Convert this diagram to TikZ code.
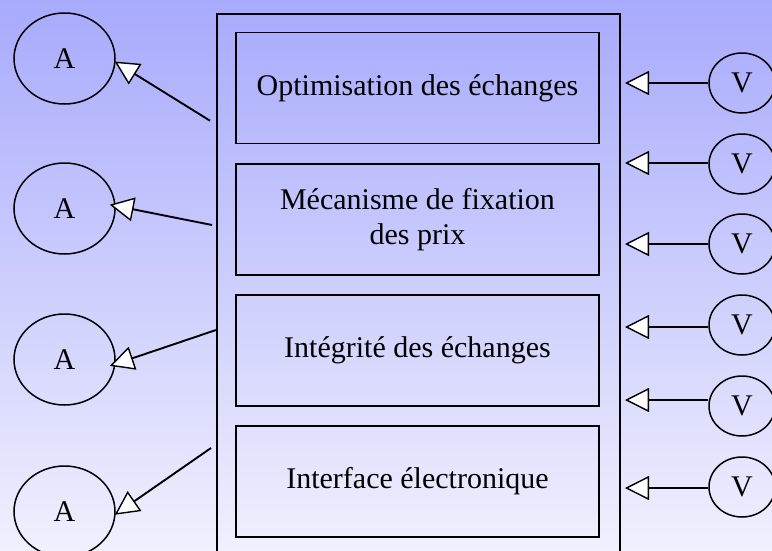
\documentclass[tikz,border=0pt]{standalone}
\usepackage{fontspec}
\setmainfont{Liberation Serif}
\usetikzlibrary{shapes.geometric,arrows.meta}
\definecolor{bgtop}{RGB}{168,170,252}
\definecolor{bgbot}{RGB}{240,240,254}
\begin{document}
\begin{tikzpicture}[x=1pt,y=-1pt,
  lbl/.style={font=\fontsize{30}{35}\selectfont},
  actor/.style={draw, ellipse, line width=1.5pt, inner sep=0pt, minimum width=101pt, minimum height=91pt, lbl},
  vnode/.style={draw, ellipse, line width=1.5pt, inner sep=0pt, minimum width=66pt, minimum height=60pt, lbl},
  part/.style={draw, line width=1.7pt, minimum width=363pt, minimum height=111pt, inner sep=0pt, align=center, lbl},
  link/.style={line width=1.9pt, -{Triangle[fill=white, length=24pt, width=24pt, line width=1.4pt]}}
]
\useasboundingbox (0,0) rectangle (772,550);
\clip (0,0) rectangle (772,550);
\shade[top color=bgtop, bottom color=bgbot] (0,0) rectangle (772,550);

% outer container
\node[draw, line width=1.7pt, minimum width=403pt, minimum height=560pt, inner sep=0pt, anchor=north west] (outer) at (216,13) {};

% inner boxes
\node[part] (b1) at (417.5,88) {Optimisation des échanges};
\node[part] (b2) at (417.5,219.5) {Mécanisme de fixation\\des prix};
\node[part] (b3) at (417.5,350.5) {Intégrité des échanges};
\node[part] (b4) at (417.5,481.5) {Interface électronique};

% actors
\node[actor] (A1) at (64.5,58.5) {A};
\node[actor] (A2) at (64.5,208.5) {A};
\node[actor] (A3) at (64.5,359.5) {A};
\node[actor] (A4) at (64.5,511.5) {A};

% V nodes
\node[vnode] (V1) at (742,83) {V};
\node[vnode] (V2) at (742,164) {V};
\node[vnode] (V3) at (742,244) {V};
\node[vnode] (V4) at (742,325) {V};
\node[vnode] (V5) at (742,406) {V};
\node[vnode] (V6) at (742,487) {V};

% free ends
\coordinate (s1) at (210,120.7);
\coordinate (s2) at (212,225);
\coordinate (s3) at (216,330);
\coordinate (s4) at (211,448);
\coordinate (t1) at (625,83);
\coordinate (t2) at (625,163);
\coordinate (t3) at (625,244);
\coordinate (t4) at (625,327);
\coordinate (t5) at (625,400);
\coordinate (t6) at (625,488);

% arrows to A
\draw[link, shorten >=-1pt] (s1) -- (A1.-4);
\draw[link, shorten >=-6pt] (s2) -- (A2.3);
\draw[link, shorten >=-6pt] (s3) -- (A3.-5);
\draw[link, shorten >=-1pt] (s4) -- (A4.-3);

% arrows from V
\draw[link] (V1.west |- t1) -- (t1);
\draw[link] (V2.west |- t2) -- (t2);
\draw[link] (V3.west |- t3) -- (t3);
\draw[link] (V4.west |- t4) -- (t4);
\draw[link] (V5.west |- t5) -- (t5);
\draw[link] (V6.west |- t6) -- (t6);
\end{tikzpicture}
\end{document}
